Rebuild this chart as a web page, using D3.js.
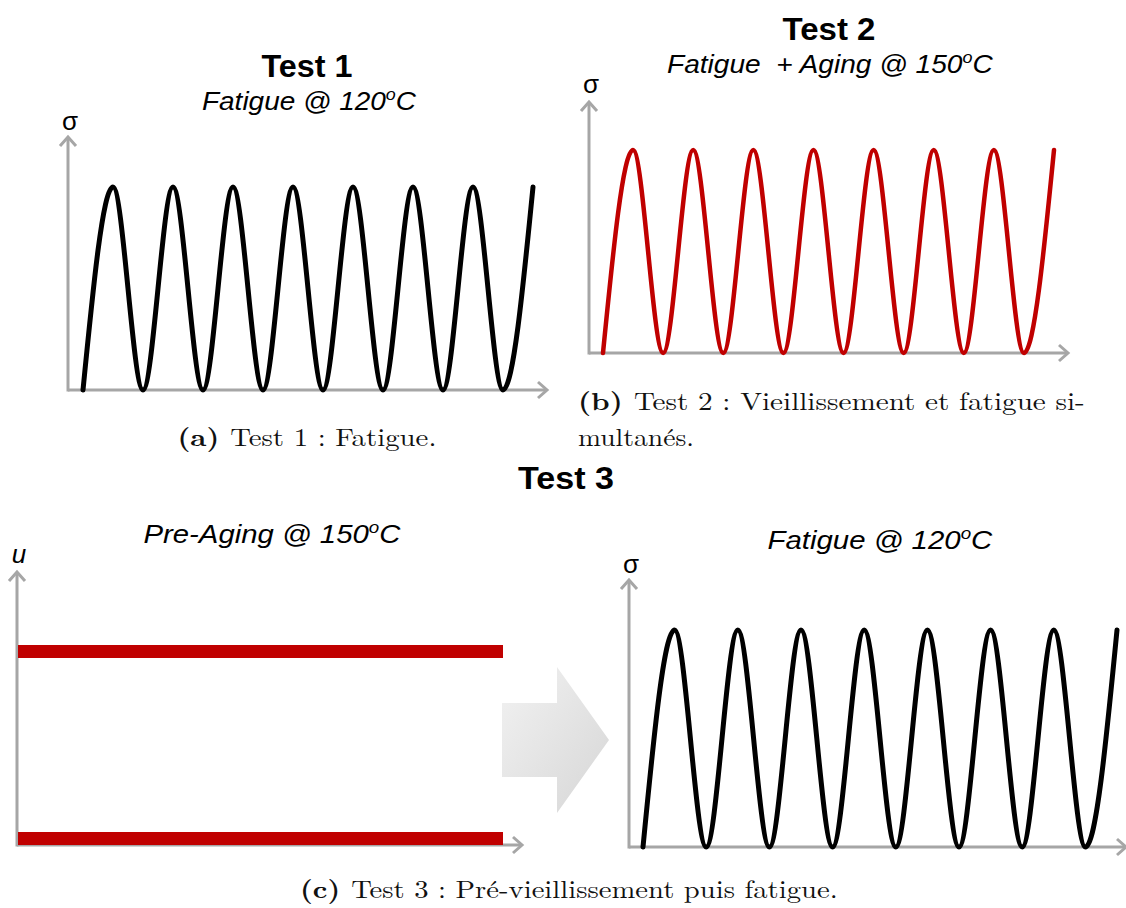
<!DOCTYPE html>
<html>
<head>
<meta charset="utf-8">
<title>Tests de vieillissement et fatigue</title>
<script src="https://d3js.org/d3.v7.min.js"></script>
<style>
	body { margin: 0; background: #fff; }
	svg { display: block; }
	.sans { font-family: Arial, "Liberation Sans", sans-serif; fill: #000; white-space: pre; }
	.cap { font-family: "Latin Modern Roman", "CMU Serif", "Liberation Serif", serif; font-size: 25px; fill: #111; }
	.axis { stroke: #a6a6a6; stroke-width: 3; fill: none; }
</style>
</head>
<body>
<svg id="fig" width="1126" height="908"></svg>
<script>
// cycle positions (in cycles) and normalised stress
var cycleTimes  = [0, 0.5, 1, 1.5, 2, 2.5, 3, 3.5, 4, 4.5, 5, 5.5, 6, 6.5, 7, 7.5];
var test1Stress = [0, 1, 0, 1, 0, 1, 0, 1, 0, 1, 0, 1, 0, 1, 0, 1];
var test2Stress = [0, 1, 0, 1, 0, 1, 0, 1, 0, 1, 0, 1, 0, 1, 0, 1];
var test3Stress = [0, 1, 0, 1, 0, 1, 0, 1, 0, 1, 0, 1, 0, 1, 0, 1];

// pre-aging: two constant displacement levels
var agingTimes = [0, 1];
var agingUpper = [1, 1];
var agingLower = [0, 0];

var titles    = ["Test 1", "Test 2", "Test 3"];
var subtitles = ["Fatigue @ 120", "Fatigue  + Aging @ 150", "Pre-Aging @ 150", "Fatigue @ 120"];

var svg = d3.select("#fig");

// stretch a text horizontally so it spans the wanted width
function fitText(t, x, y, w, anchor) {
	var len = t.node().getComputedTextLength();
	var sx = w / len;
	var dx = anchor === "middle" ? -w / 2 : 0;
	t.attr("x", 0).attr("y", 0)
		.attr("transform", "translate(" + (x + dx) + "," + y + ") scale(" + sx + ",1)");
}

// draws a pair of grey arrow axes
function drawAxes(g, x0, y0, xEnd, yTop) {
	g.append("line").attr("class", "axis")
		.attr("x1", x0).attr("y1", y0).attr("x2", xEnd - 1).attr("y2", y0);
	g.append("line").attr("class", "axis")
		.attr("x1", x0).attr("y1", y0 + 1.5).attr("x2", x0).attr("y2", yTop + 1);
	g.append("path").attr("class", "axis")
		.attr("d", "M" + (xEnd - 9) + "," + (y0 - 8) + "L" + xEnd + "," + y0 + "L" + (xEnd - 9) + "," + (y0 + 8));
	g.append("path").attr("class", "axis")
		.attr("d", "M" + (x0 - 8) + "," + (yTop + 9) + "L" + x0 + "," + yTop + "L" + (x0 + 8) + "," + (yTop + 9));
}

// fatigue signal panel
function wavePanel(p, values) {
	var g = svg.append("g");
	var x = d3.scaleLinear().domain([0, 7.5]).range([p.t0, p.t1]);
	var y = d3.scaleLinear().domain([0, 1]).range([p.base, p.peak]);
	drawAxes(g, p.ax, y(0), p.axEnd, p.axTop);
	var line = d3.line()
		.x(function(d, i) { return x(cycleTimes[i]); })
		.y(function(d) { return y(d); })
		.curve(d3.curveMonotoneX);
	g.append("path")
		.attr("d", line(values))
		.attr("fill", "none")
		.attr("stroke", p.color)
		.attr("stroke-width", p.width)
		.attr("stroke-linecap", "round");
	g.append("text").attr("class", "sans")
		.attr("x", p.ax + 2).attr("y", p.labelY)
		.attr("text-anchor", "middle")
		.attr("font-size", "26px")
		.text("σ");
}

wavePanel({t0: 83, t1: 533, base: 390, peak: 187, ax: 68, axEnd: 547, axTop: 137, labelY: 130, color: "#000", width: 5}, test1Stress);
wavePanel({t0: 603, t1: 1054, base: 353, peak: 150, ax: 589, axEnd: 1068, axTop: 102, labelY: 93, color: "#c00000", width: 4.5}, test2Stress);
wavePanel({t0: 643, t1: 1117, base: 847, peak: 630, ax: 629, axEnd: 1126, axTop: 580, labelY: 573, color: "#000", width: 5}, test3Stress);

// pre-aging panel
var gA = svg.append("g");
var xA = d3.scaleLinear().domain([0, 1]).range([18, 503]);
var yA = d3.scaleLinear().domain([0, 1]).range([838.5, 651.5]);
drawAxes(gA, 17, 845, 522, 572);
[agingUpper, agingLower].forEach(function(levels) {
	gA.append("path")
		.attr("d", d3.line()
			.x(function(d, i) { return xA(agingTimes[i]); })
			.y(function(d) { return yA(d); })(levels))
		.attr("stroke", "#c00000")
		.attr("stroke-width", 13)
		.attr("fill", "none");
});
gA.append("text").attr("class", "sans")
	.attr("x", 19).attr("y", 563)
	.attr("text-anchor", "middle")
	.attr("font-size", "26px")
	.attr("font-style", "italic")
	.text("u");

// big gradient arrow between the two test 3 panels
var grad = svg.append("defs").append("linearGradient")
	.attr("id", "arrowGrad").attr("x1", "0%").attr("y1", "0%").attr("x2", "100%").attr("y2", "100%");
grad.append("stop").attr("offset", "0%").attr("stop-color", "#f2f2f2");
grad.append("stop").attr("offset", "100%").attr("stop-color", "#d6d6d6");
svg.append("path")
	.attr("d", "M502,703L557,703L557,667L609,740L557,813L557,777L502,777Z")
	.attr("fill", "url(#arrowGrad)");

// titles: centre x, baseline y, width
var tPos = [[307, 77, 91], [829, 40, 93], [566, 489, 96]];
tPos.forEach(function(p, i) {
	var t = svg.append("text").attr("class", "sans")
		.attr("font-size", "31px")
		.attr("font-weight", "bold")
		.text(titles[i]);
	fitText(t, p[0], p[1], p[2], "middle");
});
var sPos = [[309, 110, 214], [830, 73, 326], [272, 543, 257], [880, 549, 225]];
sPos.forEach(function(p, i) {
	var t = svg.append("text").attr("class", "sans")
		.attr("font-size", "25px")
		.attr("font-style", "italic");
	t.append("tspan").text(subtitles[i]);
	t.append("tspan").attr("font-size", "16px").attr("dy", -10).text("o");
	t.append("tspan").attr("dy", 10).text("C");
	fitText(t, p[0], p[1], p[2], "middle");
});

// captions
function caption(x, y, w, tag, txt, anchor) {
	var t = svg.append("text").attr("class", "cap");
	if (tag) t.append("tspan").attr("font-weight", "bold").text(tag + " ");
	t.append("tspan").text(txt);
	fitText(t, x, y, w, anchor);
}
caption(307, 446, 259, "(a)", "Test 1 : Fatigue.", "middle");
caption(578, 410, 507, "(b)", "Test 2 : Vieillissement et fatigue si-");
caption(578, 446, 116, null, "multanés.");
caption(569, 898, 538, "(c)", "Test 3 : Pré-vieillissement puis fatigue.", "middle");
</script>
</body>
</html>
